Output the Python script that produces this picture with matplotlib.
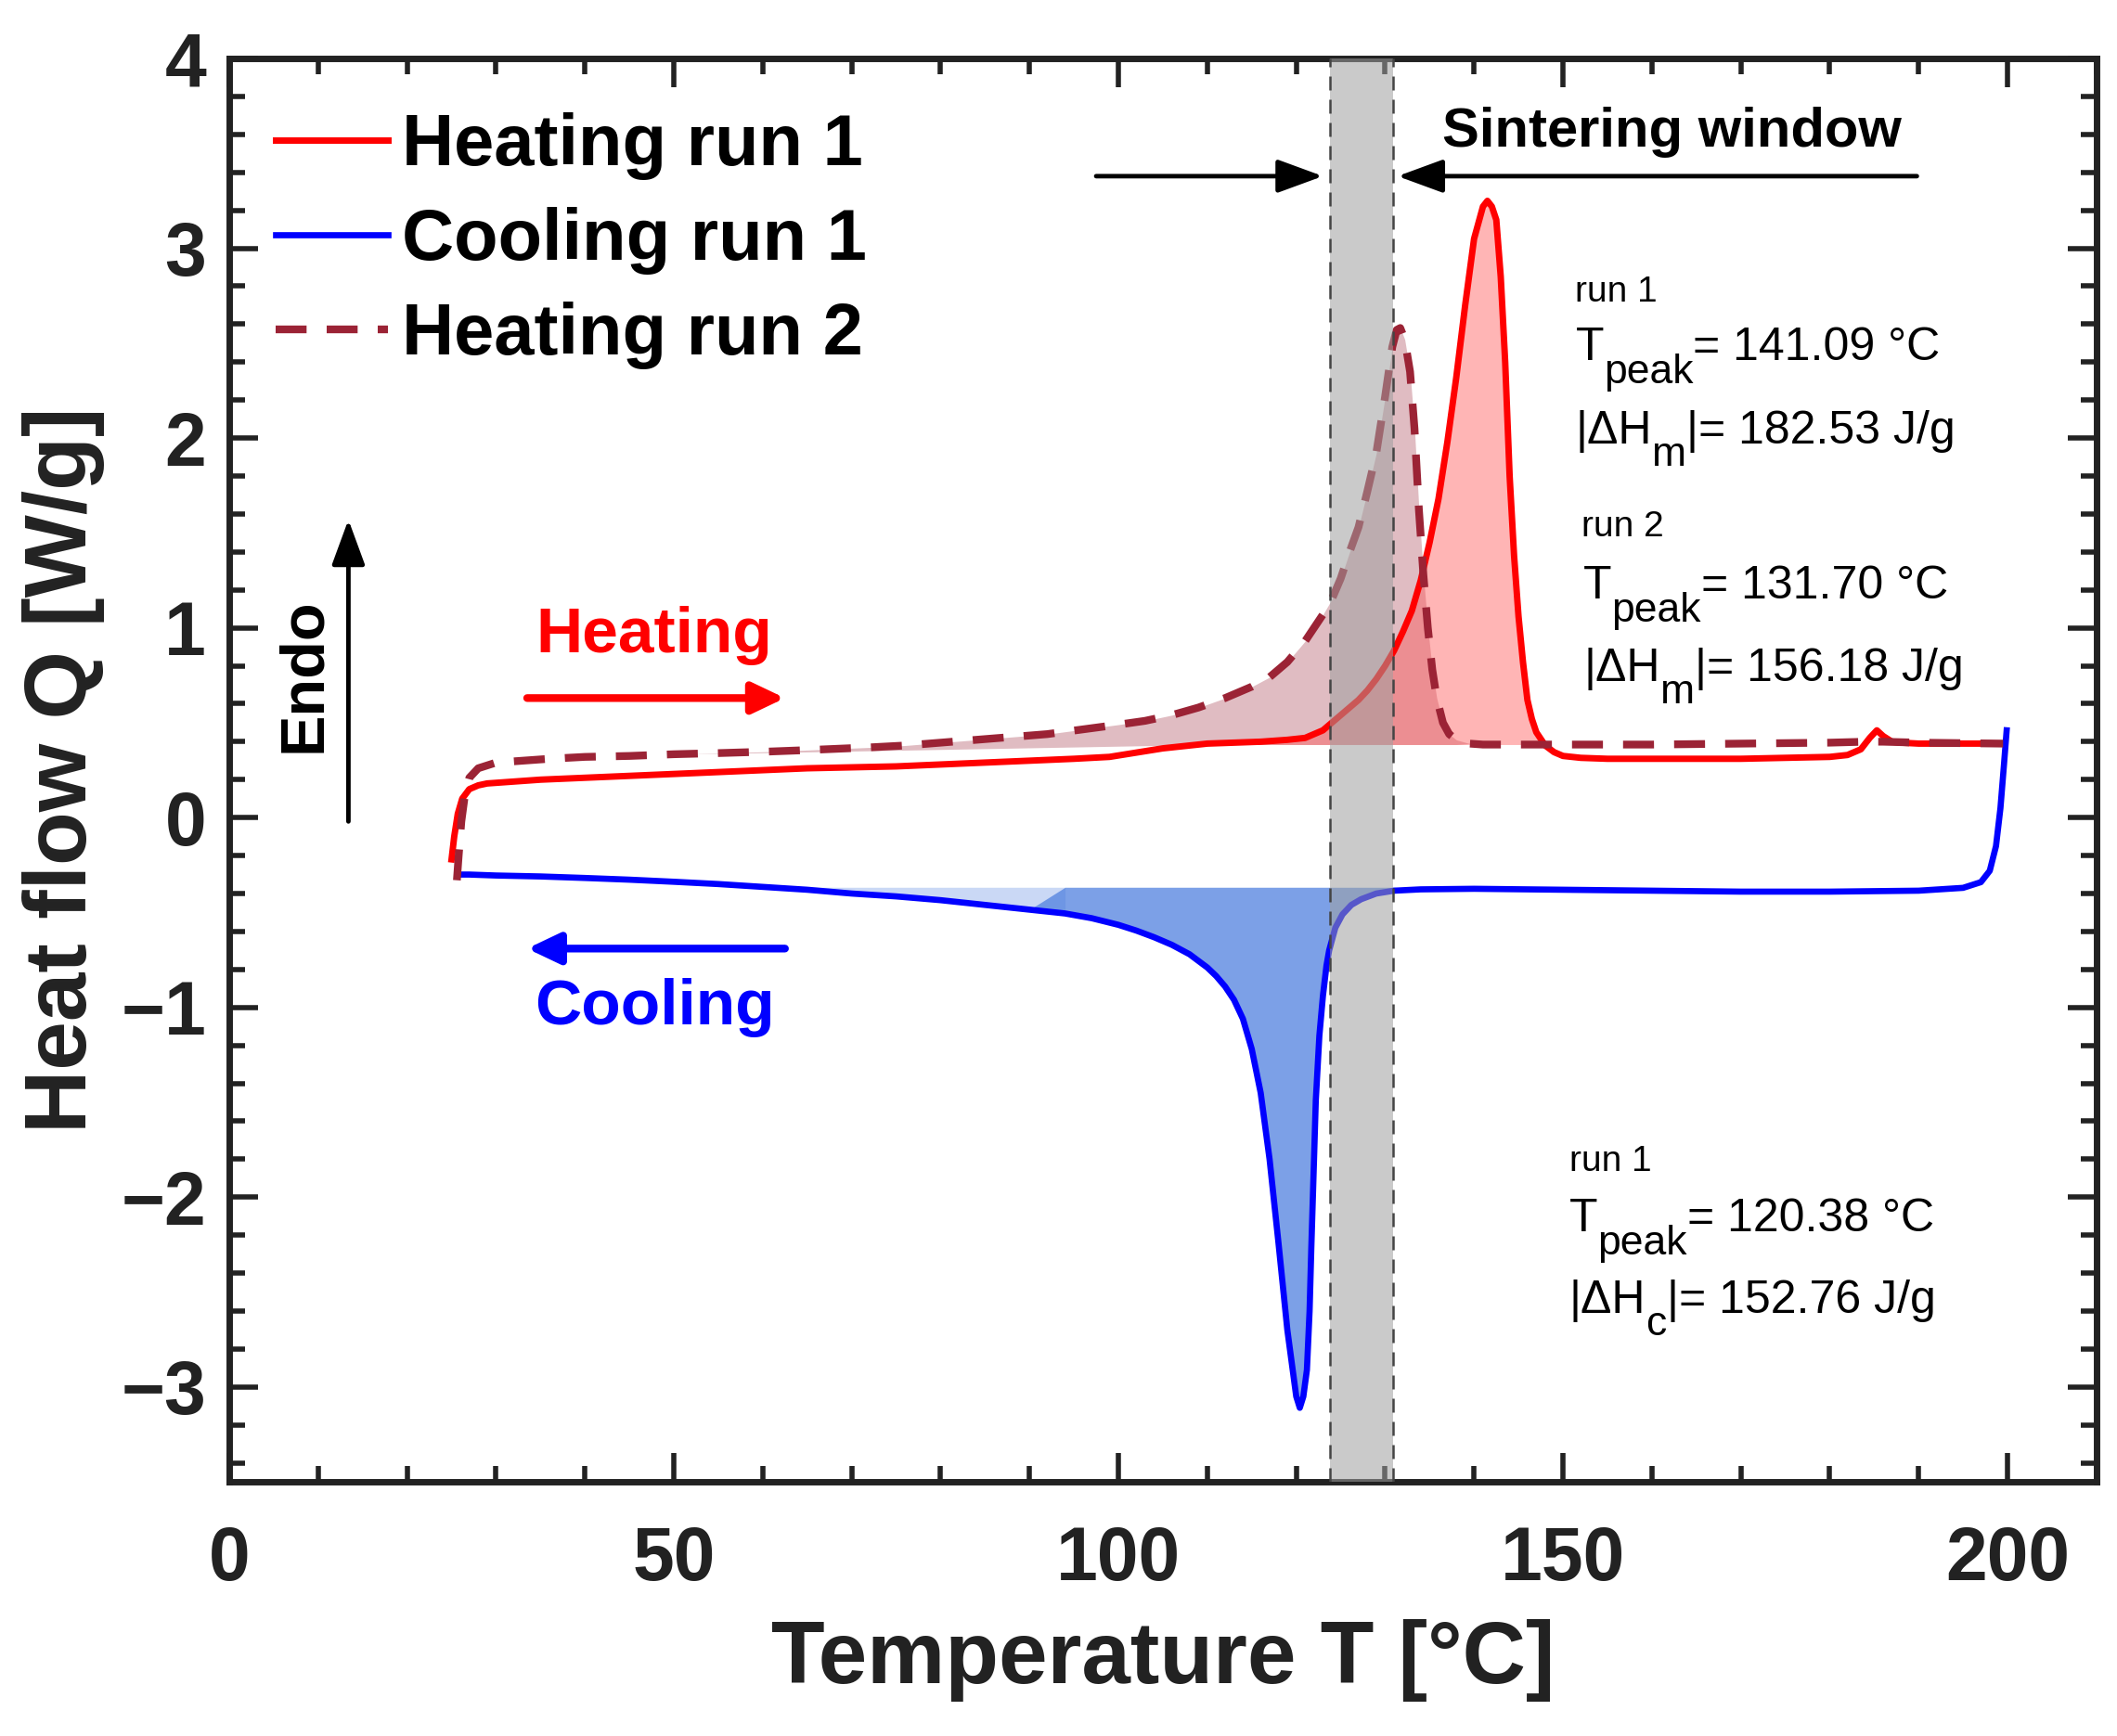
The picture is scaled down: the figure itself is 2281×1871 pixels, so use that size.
import numpy as np
import matplotlib
matplotlib.use("Agg")
import matplotlib.pyplot as plt
from matplotlib.ticker import MultipleLocator

plt.rcParams['font.family'] = ['Liberation Sans', 'DejaVu Sans']

# heating run 1 (T in degC, Q in W/g)
t_heat1 = [25.0, 25.3, 25.7, 26.2, 27.0, 28.0, 29.0, 32, 35, 40, 45, 50, 55, 60, 65, 70, 75,
           80, 85, 90, 95, 99, 101, 103, 105, 108, 110, 113, 116, 119, 121, 123, 124, 125,
           126, 127, 128, 129, 130, 131, 132, 133, 134, 135, 136, 137, 138, 139, 140, 141,
           141.5, 142, 142.5, 143, 143.5, 144, 144.5, 145, 145.5, 146, 146.5, 147, 148, 149,
           150, 152, 155, 160, 165, 170, 175, 180, 182, 183.5, 184.5, 185.3, 186, 187, 188,
           190, 195, 199.5]
q_heat1 = [-0.22, -0.10, 0.02, 0.10, 0.15, 0.17, 0.18, 0.19, 0.20, 0.21, 0.22, 0.23, 0.24,
           0.25, 0.26, 0.265, 0.27, 0.28, 0.29, 0.30, 0.31, 0.32, 0.335, 0.35, 0.365, 0.38, 0.39,
           0.395, 0.40, 0.41, 0.42, 0.46, 0.50, 0.54, 0.58, 0.62, 0.67, 0.73, 0.80, 0.88, 0.98,
           1.09, 1.25, 1.45, 1.68, 1.98, 2.32, 2.70, 3.05, 3.22, 3.25, 3.22, 3.15, 2.85, 2.40,
           1.80, 1.38, 1.06, 0.82, 0.62, 0.52, 0.45, 0.38, 0.345, 0.325, 0.315, 0.31, 0.31,
           0.31, 0.31, 0.315, 0.32, 0.33, 0.36, 0.42, 0.46, 0.43, 0.40, 0.395, 0.39, 0.39, 0.39]

# heating run 2
t_heat2 = [25.6, 25.8, 26.1, 26.5, 27.0, 28.0, 30, 33, 36, 40, 45, 50, 55, 60, 64, 68, 72, 76,
           80, 84, 88, 92, 96, 100, 103, 106, 109, 112, 115, 117, 119, 121, 122, 123, 124, 125,
           126, 127, 128, 129, 130, 130.8, 131.3, 131.7, 132.2, 132.8, 133.3, 133.8, 134.3,
           134.8, 135.3, 135.8, 136.5, 137.2, 138, 139.5, 141, 150, 160, 170, 180, 184, 186,
           190, 199.5]
q_heat2 = [-0.33, -0.20, -0.02, 0.12, 0.21, 0.26, 0.29, 0.30, 0.31, 0.32, 0.325, 0.334, 0.34,
           0.347, 0.354, 0.362, 0.37, 0.38, 0.395, 0.41, 0.425, 0.44, 0.465, 0.49, 0.51, 0.54,
           0.58, 0.63, 0.69, 0.74, 0.82, 0.93, 1.00, 1.07, 1.15, 1.26, 1.40, 1.53, 1.72, 1.92,
           2.22, 2.48, 2.57, 2.58, 2.52, 2.35, 2.05, 1.62, 1.28, 1.00, 0.78, 0.63, 0.50, 0.44,
           0.41, 0.39, 0.385, 0.385, 0.385, 0.39, 0.395, 0.40, 0.40, 0.395, 0.39]

# cooling run 1
t_cool1 = [25.8, 27, 30, 35, 40, 45, 50, 55, 60, 65, 70, 75, 80, 85, 90, 94, 97, 100, 102,
           104, 106, 108, 110, 111, 112, 113, 114, 115, 116, 117, 118, 119, 119.6, 120.0, 120.4,
           120.8, 121.2, 121.5, 121.7, 122.0, 122.2, 122.6, 123.0, 123.4, 123.7, 124.4, 125.2,
           126.2, 127.3, 129, 131, 134, 140, 150, 160, 170, 180, 190, 195, 197, 198, 198.7,
           199.2, 199.6, 199.9]
q_cool1 = [-0.30, -0.30, -0.305, -0.31, -0.318, -0.327, -0.338, -0.35, -0.365, -0.38, -0.40,
           -0.415, -0.435, -0.46, -0.485, -0.505, -0.53, -0.565, -0.595, -0.63, -0.67, -0.72,
           -0.79, -0.835, -0.89, -0.96, -1.06, -1.22, -1.45, -1.80, -2.24, -2.70, -2.91, -3.05,
           -3.11, -3.05, -2.91, -2.60, -2.26, -1.80, -1.49, -1.15, -0.94, -0.78, -0.70, -0.58,
           -0.51, -0.46, -0.43, -0.40, -0.385, -0.378, -0.375, -0.38, -0.385, -0.39, -0.39,
           -0.385, -0.37, -0.34, -0.28, -0.15, 0.05, 0.28, 0.46]

base_melt = 0.385
base_cryst = -0.367
window = [123.8, 130.9]

c_red = '#ff0000'
c_blue = '#0000ff'
c_maroon = '#9b2335'

fig = plt.figure(figsize=(22.81, 18.71), dpi=100)
ax = fig.add_axes([0.1083, 0.1464, 0.882, 0.8199])

th1 = np.array(t_heat1); qh1 = np.array(q_heat1)
th2 = np.array(t_heat2); qh2 = np.array(q_heat2)
tc1 = np.array(t_cool1); qc1 = np.array(q_cool1)

# filled areas under peaks
b2 = np.interp(th2, [52, 110], [0.335, base_melt])
ax.fill_between(th2, qh2, b2, where=(th2 > 52) & (th2 < 139) & (qh2 > b2),
                color=c_maroon, alpha=0.3, lw=0, interpolate=True)
ax.fill_between(th1, qh1, base_melt, where=(th1 > 109) & (th1 < 149) & (qh1 > base_melt),
                color='#ff5050', alpha=0.42, lw=0, interpolate=True)
ax.fill_between(tc1, qc1, base_cryst, where=(tc1 >= 94) & (tc1 < 132) & (qc1 < base_cryst),
                color='#5080e0', alpha=0.75, lw=0, interpolate=True)
ax.fill_between(tc1, qc1, base_cryst, where=(tc1 > 60) & (tc1 <= 94) & (qc1 < base_cryst),
                color='#5080e0', alpha=0.3, lw=0, interpolate=True)

l1, = ax.plot(th1, qh1, color=c_red, lw=5, label='Heating run 1')
l2, = ax.plot(tc1, qc1, color=c_blue, lw=4.8, label='Cooling run 1')
l3, = ax.plot(th2, qh2, color=c_maroon, lw=6, dashes=(4.0, 2.6), label='Heating run 2')

# sintering window band
ax.axvspan(window[0], window[1], color='#a0a0a0', alpha=0.55, lw=0, zorder=3)
for xv in window:
    ax.axvline(xv, color='#444444', lw=1.8, ls=(0, (6, 4)), zorder=4)

ax.set_xlim(0, 210)
ax.set_ylim(-3.5, 4)
ax.xaxis.set_major_locator(MultipleLocator(50))
ax.xaxis.set_minor_locator(MultipleLocator(10))
ax.yaxis.set_major_locator(MultipleLocator(1))
ax.yaxis.set_minor_locator(MultipleLocator(0.2))
ax.tick_params(which='both', direction='in', top=True, right=True, width=4, colors='#222222')
ax.tick_params(which='major', length=22, labelsize=58)
ax.tick_params(which='minor', length=12)
ax.tick_params(axis='x', pad=34)
ax.tick_params(axis='y', pad=18)
for lab in ax.get_xticklabels() + ax.get_yticklabels():
    lab.set_fontweight('bold')
for s in ax.spines.values():
    s.set_linewidth(5)
    s.set_color('#222222')

ax.set_xlabel('Temperature T [°C]', fontsize=68, fontweight='bold', labelpad=18, color='#222222')
ax.set_ylabel('Heat flow Q [W/g]', fontsize=68, fontweight='bold', labelpad=12, color='#222222')

ax.legend(handles=[l1, l2, l3], loc='upper left', bbox_to_anchor=(0.025, 0.962),
          frameon=False, handlelength=1.55, handletextpad=0.2,
          labelspacing=0.37, borderpad=0, borderaxespad=0,
          prop={'weight': 'bold', 'size': 56})

# arrows and labels
arr = dict(arrowstyle='-|>,head_length=1.5,head_width=0.55', color='black', lw=3.5,
           shrinkA=0, shrinkB=0, mutation_scale=20)
ax.annotate('', xy=(123.0, 3.38), xytext=(97.5, 3.38), arrowprops=arr)
ax.annotate('', xy=(131.4, 3.38), xytext=(189.8, 3.38), arrowprops=arr)
ax.text(162.3, 3.61, 'Sintering window', fontsize=43, fontweight='bold',
        ha='center', va='center')

ax.annotate('', xy=(13.4, 1.57), xytext=(13.4, -0.02), arrowprops=arr)
ax.text(8.4, 0.75, 'Endo', fontsize=48, fontweight='bold', rotation=90,
        ha='center', va='center')

ax.annotate('', xy=(62.5, 0.63), xytext=(33.5, 0.63),
            arrowprops=dict(arrowstyle='-|>,head_length=1.05,head_width=0.5',
                            color=c_red, lw=6, shrinkA=0, shrinkB=0, mutation_scale=20))
ax.text(47.8, 0.96, 'Heating', fontsize=50, fontweight='bold', color=c_red,
        ha='center', va='center')
ax.annotate('', xy=(33.5, -0.69), xytext=(62.5, -0.69),
            arrowprops=dict(arrowstyle='-|>,head_length=1.05,head_width=0.5',
                            color=c_blue, lw=6, shrinkA=0, shrinkB=0, mutation_scale=20))
ax.text(47.8, -1.0, 'Cooling', fontsize=50, fontweight='bold', color=c_blue,
        ha='center', va='center')

# peak annotations, subscripts placed piece by piece
fs_main = 36
fs_sub = 32
renderer = fig.canvas.get_renderer()


def sub_line(x, y, main, sub, rest, drop=18):
    t = ax.text(x, y, main, fontsize=fs_main, va='baseline')
    w1 = t.get_window_extent(renderer).width * 72 / fig.dpi
    s = ax.annotate(sub, xy=(x, y), xytext=(w1, -drop), textcoords='offset points',
                    fontsize=fs_sub, va='baseline')
    w2 = s.get_window_extent(renderer).width * 72 / fig.dpi
    ax.annotate(rest, xy=(x, y), xytext=(w1 + w2, 0), textcoords='offset points',
                fontsize=fs_main, va='baseline')


ax.text(151.4, 2.77, 'run 1', fontsize=28, va='center')
sub_line(151.4, 2.41, 'T', 'peak', '= 141.09 °C')
sub_line(151.4, 1.97, '|ΔH', 'm', '|= 182.53 J/g', drop=17)
ax.text(152.1, 1.53, 'run 2', fontsize=28, va='center')
sub_line(152.3, 1.155, 'T', 'peak', '= 131.70 °C')
sub_line(152.3, 0.72, '|ΔH', 'm', '|= 156.18 J/g', drop=17)
ax.text(150.7, -1.815, 'run 1', fontsize=28, va='center')
sub_line(150.7, -2.18, 'T', 'peak', '= 120.38 °C')
sub_line(150.7, -2.61, '|ΔH', 'c', '|= 152.76 J/g', drop=17)

fig.savefig('out.png', dpi=100)
